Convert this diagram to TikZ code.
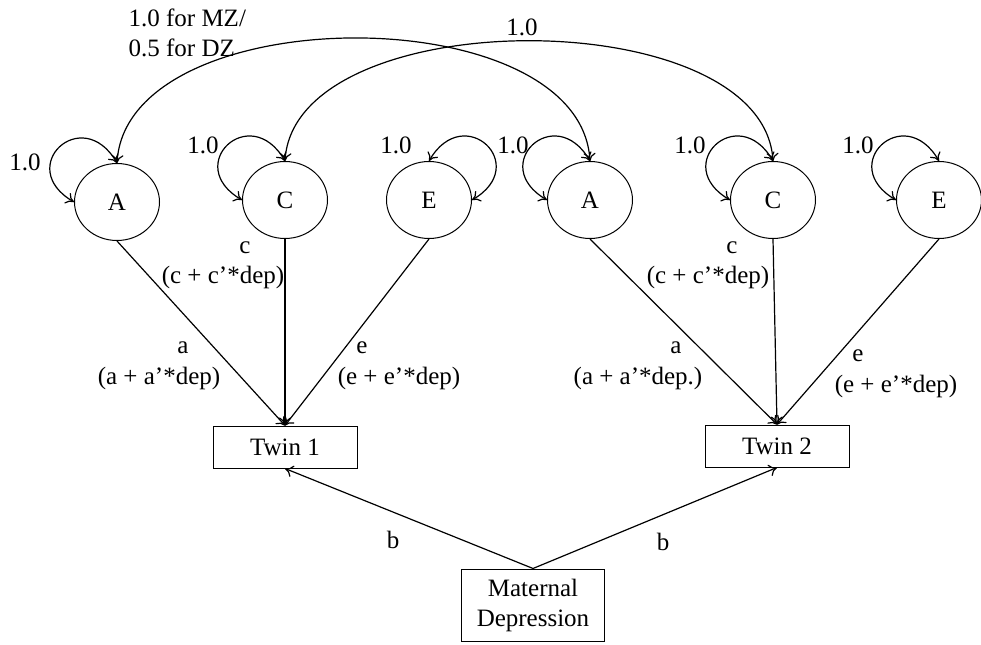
\documentclass[tikz,border=0pt]{standalone}
\usepackage{fontspec}
\setmainfont{Liberation Serif}
\usetikzlibrary{arrows.meta,shapes.geometric}
\begin{document}
\begin{tikzpicture}[>={To[length=4pt,width=6pt]}, x=0.5pt, y=0.5pt, line width=0.6pt,
	font=\fontsize{12.5}{15}\selectfont,
	lv/.style={draw, ellipse, inner sep=0, line width=0.5pt, minimum width=42.5pt, minimum height=38.5pt},
	ob/.style={draw, rectangle, inner sep=0, line width=0.5pt, minimum width=72pt, minimum height=21pt, align=center},
	t/.style={inner sep=0, align=center}]
	\useasboundingbox (0,0) rectangle (981,644);
	% latent factors
	\node[lv] (A1) at (117,442) {A};
	\node[lv] (C1) at (285,444) {C};
	\node[lv] (E1) at (429,444) {E};
	\node[lv] (A2) at (590,444) {A};
	\node[lv] (C2) at (773,444) {C};
	\node[lv] (E2) at (939,444) {E};
	% observed
	\node[ob] (T1) at (285,197) {Twin 1};
	\node[ob] (T2) at (777,198) {Twin 2};
	\node[ob, minimum width=71.5pt, minimum height=36pt] (MD) at (533,39) {Maternal\\Depression};
	% paths
	\draw[->] (A1.south) -- (T1.north);
	\draw[->] (C1.south) -- (T1.north);
	\draw[->] (E1.south) -- (T1.north);
	\draw[->] (A2.south) -- (T2.north);
	\draw[->] (C2.south) -- (T2.north);
	\draw[->] (E2.south) -- (T2.north);
	\draw[->] (MD.north) -- (T1.south);
	\draw[->] (MD.north) -- (T2.south);
	% covariances
	\draw[<->] (A1.north) .. controls +(10,165) and +(-10,165) .. (A2.north);
	\draw[<->] (C1.north) .. controls +(10,160) and +(-10,160) .. (C2.north);
	\draw[<->] (A1.west) .. controls +(-60,35) and +(-35,60) .. (A1.north);
	\draw[<->] (C1.west) .. controls +(-60,35) and +(-35,60) .. (C1.north);
	\draw[<->] (E1.north) .. controls +(35,60) and +(60,35) .. (E1.east);
	\draw[<->] (A2.west) .. controls +(-60,35) and +(-35,60) .. (A2.north);
	\draw[<->] (C2.west) .. controls +(-60,35) and +(-35,60) .. (C2.north);
	\draw[<->] (E2.west) .. controls +(-60,35) and +(-35,60) .. (E2.north);
	% labels
	\node[t, anchor=west, align=left] (rA) at (128,611) {1.0 for MZ/\\0.5 for DZ};
	\node[t] (rC) at (522,617) {1.0};
	\node[t] (vA1) at (25,482) {1.0};
	\node[t] (vC1) at (203,499) {1.0};
	\node[t] (vE1) at (396,499) {1.0};
	\node[t] (vA2) at (513,499) {1.0};
	\node[t] (vC2) at (690,499) {1.0};
	\node[t] (vE2) at (858,499) {1.0};
	\node[t] (pa1) at (183,296) {a};
	\node[t] (qa1) at (159,266) {(a + a’*dep)};
	\node[t] (pc1) at (245,396) {c};
	\node[t] (qc1) at (223,367) {(c + c’*dep)};
	\node[t] (pe1) at (362,296) {e};
	\node[t] (qe1) at (399,266) {(e + e’*dep)};
	\node[t] (pa2) at (676,296) {a};
	\node[t] (qa2) at (638,266) {(a + a’*dep.)};
	\node[t] (pc2) at (732,396) {c};
	\node[t] (qc2) at (708,367) {(c + c’*dep)};
	\node[t] (pe2) at (858,288) {e};
	\node[t] (qe2) at (896,258) {(e + e’*dep)};
	\node[t] (b1) at (393,104) {b};
	\node[t] (b2) at (663,102) {b};
\end{tikzpicture}
\end{document}
